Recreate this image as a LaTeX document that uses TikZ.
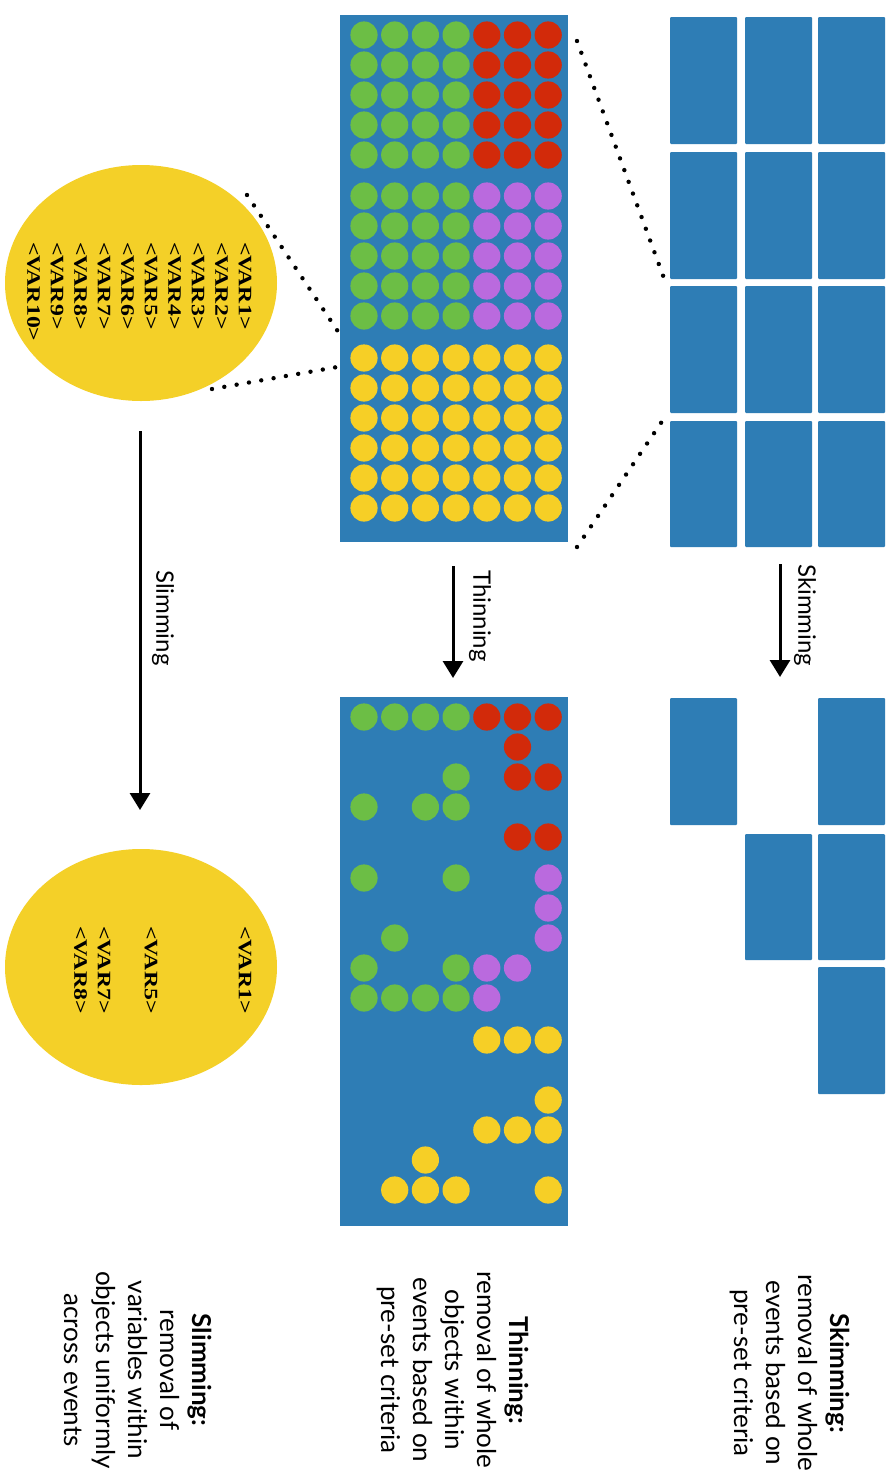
\documentclass[tikz,border=0pt]{standalone}
\usepackage{fontspec}
\setmainfont{Lato}
\newfontfamily\varfont{Liberation Serif}
\usetikzlibrary{shapes.geometric,arrows.meta}
\definecolor{evblue}{RGB}{46,125,181}
\definecolor{objgreen}{RGB}{108,190,69}
\definecolor{objred}{RGB}{210,42,10}
\definecolor{objpurple}{RGB}{186,106,222}
\definecolor{objyellow}{RGB}{246,207,38}
\definecolor{ellyellow}{RGB}{244,208,40}
\newcommand{\varword}[1]{\scalebox{1.25}[1]{#1}}
\tikzset{
  evbox/.style={fill=evblue, draw=none, rounded corners=1pt},
  flowarrow/.style={line width=3pt, -{Triangle[width=20pt,length=17pt]}},
  zoomline/.style={line width=4.4pt, line cap=round, dash pattern=on 0pt off 12.5pt},
  arrlab/.style={rotate=-90, inner sep=0pt, anchor=west, font=\fontsize{24}{28}\selectfont},
  desc/.style={rotate=-90, inner sep=0pt, align=center, font=\fontsize{26}{32}\selectfont},
  varlab/.style={rotate=-90, inner sep=0pt, anchor=west, font=\varfont\bfseries\fontsize{19}{23}\selectfont},
  varcloud/.style={ellipse, fill=ellyellow, draw=none, minimum width=272pt, minimum height=236pt, inner sep=0pt}
}
\begin{document}
\begin{tikzpicture}[x=1pt,y=-1pt]
\useasboundingbox (0,0) rectangle (895,1478);
\fill[white] (0,0) rectangle (895,1478);

% ---------- Skimming: events ----------
\foreach \cx/\cw in {670/737,745/812,818/885}{
  \foreach \ry/\rb in {17/144,152/279,286/413,421/547}{
    \fill[evbox] (\cx,\ry) rectangle (\cw,\rb);
  }
}
% skimmed events
\fill[evbox] (670,698) rectangle (737,825);
\fill[evbox] (818,698) rectangle (885,825);
\fill[evbox] (745,834) rectangle (812,960);
\fill[evbox] (818,834) rectangle (885,960);
\fill[evbox] (818,967) rectangle (885,1094);

% ---------- Thinning: event with objects ----------
\node[fill=evblue, draw=none, minimum width=228pt, minimum height=527pt, inner sep=0pt, anchor=north west] (fullev) at (340,15) {};
\node[fill=evblue, draw=none, minimum width=228pt, minimum height=529pt, inner sep=0pt, anchor=north west] (thinev) at (340,697) {};

\def\rr{13.6}
% full objects
\foreach \r in {0,...,4}{
  \foreach \c in {0,...,3}{
    \fill[objgreen] (364+30.7*\c, 35+30*\r) circle (\rr);
    \fill[objgreen] (364+30.7*\c, 196+30*\r) circle (\rr);
  }
  \foreach \c in {4,5,6}{
    \fill[objred] (364+30.7*\c, 35+30*\r) circle (\rr);
    \fill[objpurple] (364+30.7*\c, 196+30*\r) circle (\rr);
  }
}
\foreach \r in {0,...,5}{
  \foreach \c in {0,...,6}{
    \fill[objyellow] (364+30.7*\c, 358+30*\r) circle (\rr);
  }
}
% thinned objects: (column index, y)
\foreach \c/\y in {0/717,1/717,2/717,3/717, 3/777, 0/807,2/807,3/807,
                   0/878,3/878, 1/938, 0/968,3/968, 0/998,1/998,2/998,3/998}{
  \fill[objgreen] (364+30.7*\c, \y) circle (\rr);
}
\foreach \c/\y in {4/717,5/717,6/717, 5/747, 5/777,6/777, 5/837,6/837}{
  \fill[objred] (364+30.7*\c, \y) circle (\rr);
}
\foreach \c/\y in {6/878, 6/908, 6/938, 4/968,5/968, 4/998}{
  \fill[objpurple] (364+30.7*\c, \y) circle (\rr);
}
\foreach \c/\y in {4/1040,5/1040,6/1040, 6/1100, 4/1130,5/1130,6/1130, 2/1160,
                   1/1190,2/1190,3/1190,6/1190}{
  \fill[objyellow] (364+30.7*\c, \y) circle (\rr);
}

% ---------- Slimming: variables ----------
\node[varcloud] (fullvars) at (141,283) {};
\node[varcloud] (slimvars) at (141,967) {};
\foreach \i in {1,...,10}{
  \node[varlab] (v\i) at ({245-23.5*(\i-1)},242) {\varword{<VAR\i>}};
}
\node[varlab] (s1) at (245,926) {\varword{<VAR1>}};
\node[varlab] (s5) at (151,926) {\varword{<VAR5>}};
\node[varlab] (s7) at (104,926) {\varword{<VAR7>}};
\node[varlab] (s8) at (80.5,926) {\varword{<VAR8>}};

% ---------- zoom lines ----------
\coordinate (za1) at (577,41);
\coordinate (za2) at (577,547);
\coordinate (zb1) at (665,281);
\coordinate (zb2) at (665,417);
\draw[zoomline] (za1) -- (zb1);
\draw[zoomline] (za2) -- (zb2);
\coordinate (zc1) at (247,195);
\coordinate (zc2) at (212,389);
\coordinate (zd1) at (343,339);
\coordinate (zd2) at (343,366);
\draw[zoomline] (zc1) -- (zd1);
\draw[zoomline] (zc2) -- (zd2);

% ---------- arrows ----------
\coordinate (skA) at (780,564);
\coordinate (skB) at (780,677);
\coordinate (thA) at (453,566);
\coordinate (thB) at (453,678);
\coordinate (slA) at (140,431);
\coordinate (slB) at (140,810);
\draw[flowarrow] (skA) -- (skB);
\draw[flowarrow] (thA) -- (thB);
\draw[flowarrow] (slA) -- (slB);
\node[arrlab] (sklab) at (805,564) {Skimming};
\node[arrlab] (thlab) at (480,570) {Thinning};
\node[arrlab] (sllab) at (163,570) {Slimming};

% ---------- descriptions ----------
\node[desc] (skdesc) at (790,1373) {\textbf{Skimming:}\\removal of whole\\events based on\\pre-set criteria};
\node[desc] (thdesc) at (453,1370) {\textbf{Thinning:}\\removal of whole\\objects within\\events based on\\pre-set criteria};
\node[desc] (sldesc) at (138,1370) {\textbf{Slimming:}\\removal of\\variables within\\objects uniformly\\across events};
\end{tikzpicture}
\end{document}
